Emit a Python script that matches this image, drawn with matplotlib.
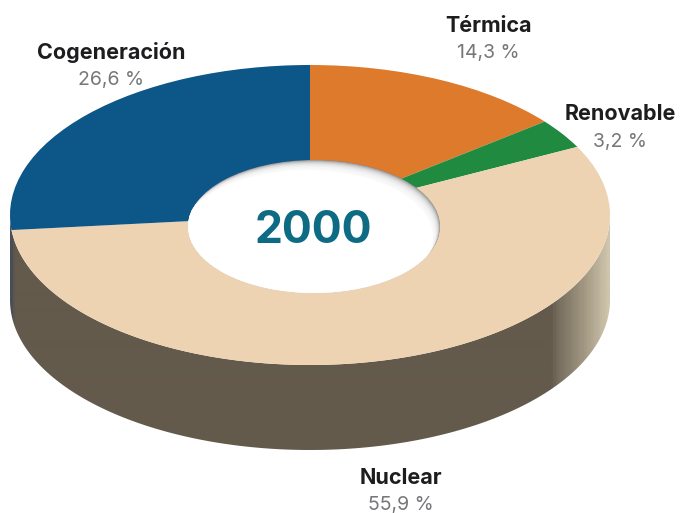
import numpy as np
import matplotlib
matplotlib.use("Agg")
import matplotlib.pyplot as plt
from matplotlib.patches import Ellipse, Polygon
from matplotlib.colors import LinearSegmentedColormap

categories = ["Térmica", "Renovable", "Nuclear", "Cogeneración"]
values = [14.3, 3.2, 55.9, 26.6]
value_labels = ["14,3 %", "3,2 %", "55,9 %", "26,6 %"]
colors = ["#dd7a2b", "#218a41", "#edd3b1", "#0d5688"]
year = "2000"

W, H = 680, 513
plt.rcParams["font.family"] = ["Inter", "DejaVu Sans"]
fig = plt.figure(figsize=(W / 100, H / 100), dpi=100, facecolor="white")

left, right, top, mid_bottom, bottom = 10, 610, 65, 365, 450
ax = fig.add_axes([left / W, 1 - bottom / H, (right - left) / W, (bottom - top) / H])
depth = (bottom - mid_bottom) / ((mid_bottom - top) / 2)

ax.pie(values, colors=colors, startangle=90, counterclock=False, radius=1,
       wedgeprops=dict(linewidth=0, zorder=3))
ax.set_aspect("auto")
ax.axis("off")

# side wall of the disc
t = np.linspace(np.pi, 2 * np.pi, 300)
side_xy = np.r_[np.c_[np.cos(t), np.sin(t) - depth], np.c_[np.cos(t[::-1]), np.sin(t[::-1])]]
side = Polygon(side_xy, closed=True, transform=ax.transData, facecolor="none", edgecolor="none")
ax.add_patch(side)
side_cmap = LinearSegmentedColormap.from_list("side", [
    (0.0, "#4a4e55"), (0.006, "#635a4c"), (0.905, "#635a4c"),
    (0.915, "#756c5d"), (0.96, "#a39883"), (1.0, "#cfc4ac")])
im = ax.imshow(np.linspace(0, 1, 600)[None, :], cmap=side_cmap, vmin=0, vmax=1,
               extent=(-1, 1, -1 - depth, 1), aspect="auto", zorder=2, interpolation="bilinear")
im.set_clip_path(side)
ax.set_xlim(-1, 1)
ax.set_ylim(-1 - depth, 1)

# hole with soft inner shadow
sx, sy = 2 / (right - left), 2 / (mid_bottom - top)
hcx, hcy = (314 - 310) * sx, -(226.5 - 215) * sy
hw, hh = 252 * sx, 133 * sy
hole = Ellipse((hcx, hcy), hw, hh, facecolor="#77777a", edgecolor="none", zorder=4)
ax.add_patch(hole)
steps = 10
for k in range(steps):
    e = Ellipse((hcx - 0.7 * k * sx, hcy - k * sy), hw, hh, facecolor="white",
                alpha=0.3, edgecolor="none", zorder=5 + k * 0.01)
    ax.add_patch(e)
    e.set_clip_path(hole)
e = Ellipse((hcx - 0.7 * steps * sx, hcy - steps * sy), hw, hh, facecolor="white",
            edgecolor="none", zorder=6)
ax.add_patch(e)
e.set_clip_path(hole)

def px_text(x, y, s, **kw):
    fig.text(x / W, 1 - y / H, s, ha="center", va="center", **kw)

name_pos = [(488, 25.5), (620, 114.5), (401, 477.5), (111, 52.5)]
value_pos = [(488, 53), (620, 142), (401, 505), (111, 80)]
for name, lab, np_, vp in zip(categories, value_labels, name_pos, value_pos):
    px_text(np_[0], np_[1], name, fontsize=15.5, fontweight="bold", color="#1d1d1f")
    px_text(vp[0], vp[1], lab, fontsize=14, color="#76777a")
px_text(313, 231, year, fontsize=32, fontweight="bold", color="#0e6b84")

fig.savefig("out.png", dpi=100, facecolor="white")
